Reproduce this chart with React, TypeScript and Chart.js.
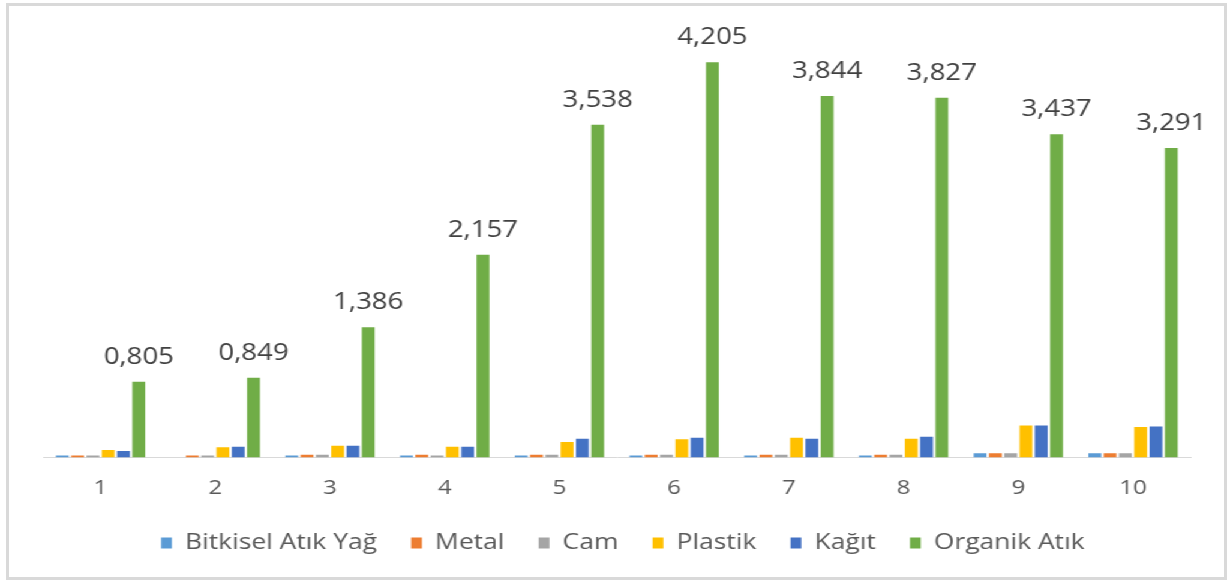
import React, { useEffect, useRef } from "react";
import { Chart, registerables } from "chart.js";

Chart.register(...registerables);

const categories = ["1", "2", "3", "4", "5", "6", "7", "8", "9", "10"];
const bitkiselAtikYag = [0.02, 0, 0.02, 0.02, 0.02, 0.02, 0.02, 0.02, 0.045, 0.045];
const metal = [0.02, 0.02, 0.03, 0.03, 0.03, 0.03, 0.03, 0.03, 0.045, 0.045];
const cam = [0.02, 0.02, 0.03, 0.02, 0.03, 0.03, 0.03, 0.03, 0.045, 0.045];
const plastik = [0.08, 0.11, 0.125, 0.115, 0.165, 0.195, 0.21, 0.2, 0.34, 0.325];
const kagit = [0.068, 0.115, 0.125, 0.115, 0.2, 0.21, 0.2, 0.22, 0.34, 0.33];
const organikAtik = [0.805, 0.849, 1.386, 2.157, 3.538, 4.205, 3.844, 3.827, 3.437, 3.291];

const seriesNames = ["Bitkisel Atık Yağ", "Metal", "Cam", "Plastik", "Kağıt", "Organik Atık"];
const seriesColors = ["#5B9BD5", "#ED7D31", "#A5A5A5", "#FFC000", "#4472C4", "#70AD47"];

const FONT = "'Open Sans', 'Noto Sans', sans-serif";
const STRETCH = 1.2;
const LOGICAL_W = 1024;
const H = 580;

const organicLabels = {
  id: "organicLabels",
  afterDatasetsDraw(chart: any) {
    const meta = chart.getDatasetMeta(5);
    const ctx = chart.ctx;
    ctx.save();
    ctx.fillStyle = "#404040";
    ctx.font = `23px ${FONT}`;
    ctx.textAlign = "center";
    ctx.textBaseline = "alphabetic";
    meta.data.forEach((bar: any, i: number) => {
      const v = organikAtik[i];
      const txt = v.toFixed(3).replace(".", ",");
      ctx.fillText(txt, bar.x, bar.y - 18);
    });
    ctx.restore();
  },
};

const legendShift = {
  id: "legendShift",
  afterLayout(chart: any) {
    const lg = chart.legend;
    if (lg) {
      lg.left += 5;
      lg.right += 5;
    }
  },
};

export default function App() {
  const ref = useRef<HTMLCanvasElement | null>(null);

  useEffect(() => {
    if (!ref.current) return;
    const series = [bitkiselAtikYag, metal, cam, plastik, kagit, organikAtik];
    const chart = new Chart(ref.current, {
      type: "bar",
      data: {
        labels: categories,
        datasets: series.map((d, i) => ({
          label: seriesNames[i],
          data: d,
          backgroundColor: seriesColors[i],
          borderWidth: 0,
          categoryPercentage: 0.8,
          barPercentage: 0.84,
        })),
      },
      options: {
        responsive: true,
        maintainAspectRatio: false,
        animation: false,
        layout: { padding: { left: 36, right: 32, top: 25, bottom: 16 } },
        plugins: {
          legend: {
            position: "bottom",
            labels: {
              boxWidth: 9,
              boxHeight: 11,
              padding: 28.5,
              color: "#595959",
              font: { family: FONT, size: 22 },
            },
          },
          tooltip: { enabled: false },
        },
        scales: {
          x: {
            grid: { display: false, drawTicks: false },
            border: { display: true, color: "#d9d9d9", width: 1 },
            ticks: { color: "#595959", font: { family: FONT, size: 20 }, padding: 19 },
            afterFit: (s: any) => {
              s.height = 46;
            },
          },
          y: { display: false, min: 0, max: 4.6 },
        },
      },
      plugins: [organicLabels, legendShift],
    });
    return () => chart.destroy();
  }, []);

  return (
    <>
      <div
        style={{
          position: "absolute",
          left: 0,
          top: 0,
          width: LOGICAL_W,
          height: H,
          transform: `scaleX(${STRETCH})`,
          transformOrigin: "0 0",
          background: "#fff",
        }}
      >
        <canvas ref={ref} />
      </div>
      <div
        style={{
          position: "absolute",
          left: 6,
          top: 3,
          width: 1221,
          height: 577,
          border: "3px solid #d9d9d9",
          boxSizing: "border-box",
          pointerEvents: "none",
        }}
      />
    </>
  );
}
